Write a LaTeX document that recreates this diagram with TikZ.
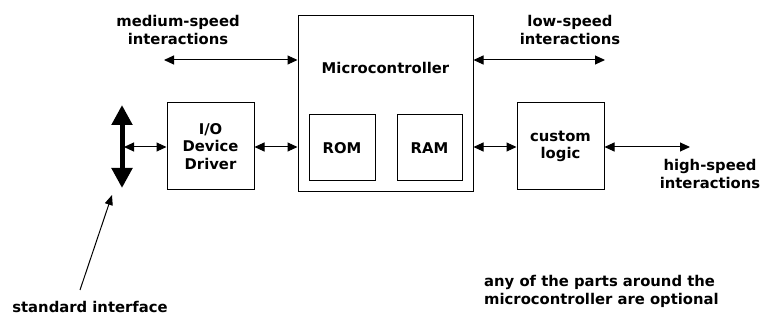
\documentclass[tikz,border=0pt]{standalone}
\usepackage{fontspec}
\setmainfont{DejaVu Sans}
\usetikzlibrary{arrows.meta}
\begin{document}
\begin{tikzpicture}[x=1pt,y=-1pt,
  blk/.style={draw,line width=1pt,inner sep=0pt},
  lbl/.style={font=\bfseries\fontsize{14.8}{17.5}\selectfont,align=center,inner sep=0pt},
  link/.style={line width=1pt,{Triangle[length=10pt,width=9pt]}-{Triangle[length=10pt,width=9pt]}},
  bus/.style={line width=5pt,{Triangle[length=20pt,width=20pt]}-{Triangle[length=20pt,width=20pt]}},
  pointer/.style={line width=1pt,-{Triangle[length=10pt,width=8pt]}}]
\useasboundingbox (0,0) rectangle (769,320);
% main blocks
\node[blk,minimum width=175pt,minimum height=176pt] (mc) at (385.5,104) {};
\node[lbl] (mctext) at (385.5,68) {Microcontroller};
\node[blk,minimum width=66pt,minimum height=66pt,lbl] (rom) at (342,148) {ROM};
\node[blk,minimum width=65pt,minimum height=66pt,lbl] (ram) at (429.5,148) {RAM};
\node[blk,minimum width=87pt,minimum height=87pt,lbl] (io) at (210.5,146.5) {I/O\\Device\\Driver};
\node[blk,minimum width=87pt,minimum height=87pt,lbl] (cl) at (560.5,146.5) {custom\\logic};
% system bus
\coordinate (bt) at (122,105);
\coordinate (bb) at (122,188);
\draw[bus] (bt) -- (bb);
\coordinate (bm) at (124,147);
\draw[link] (bm) -- (io.west |- bm);
\draw[link] (io.east |- bm) -- (mc.west |- bm);
\draw[link] (mc.east |- bm) -- (cl.west |- bm);
\coordinate (hs) at (690,147);
\draw[link] (cl.east |- bm) -- (hs);
% interaction arrows at the top
\coordinate (ml) at (164,60);
\coordinate (lr) at (605,60);
\draw[link] (ml) -- (mc.west |- ml);
\draw[link] (mc.east |- lr) -- (lr);
% labels
\node[lbl] (med) at (178,30) {medium-speed\\interactions};
\node[lbl] (low) at (570,30) {low-speed\\interactions};
\node[lbl] (high) at (710,174) {high-speed\\interactions};
\node[lbl] (std) at (90,307) {standard interface};
\node[lbl,align=left,anchor=west] (opt) at (484,291.5) {any of the parts around the\\microcontroller are optional};
\coordinate (sp) at (80,290);
\coordinate (st) at (112,195);
\draw[pointer] (sp) -- (st);
\end{tikzpicture}
\end{document}
